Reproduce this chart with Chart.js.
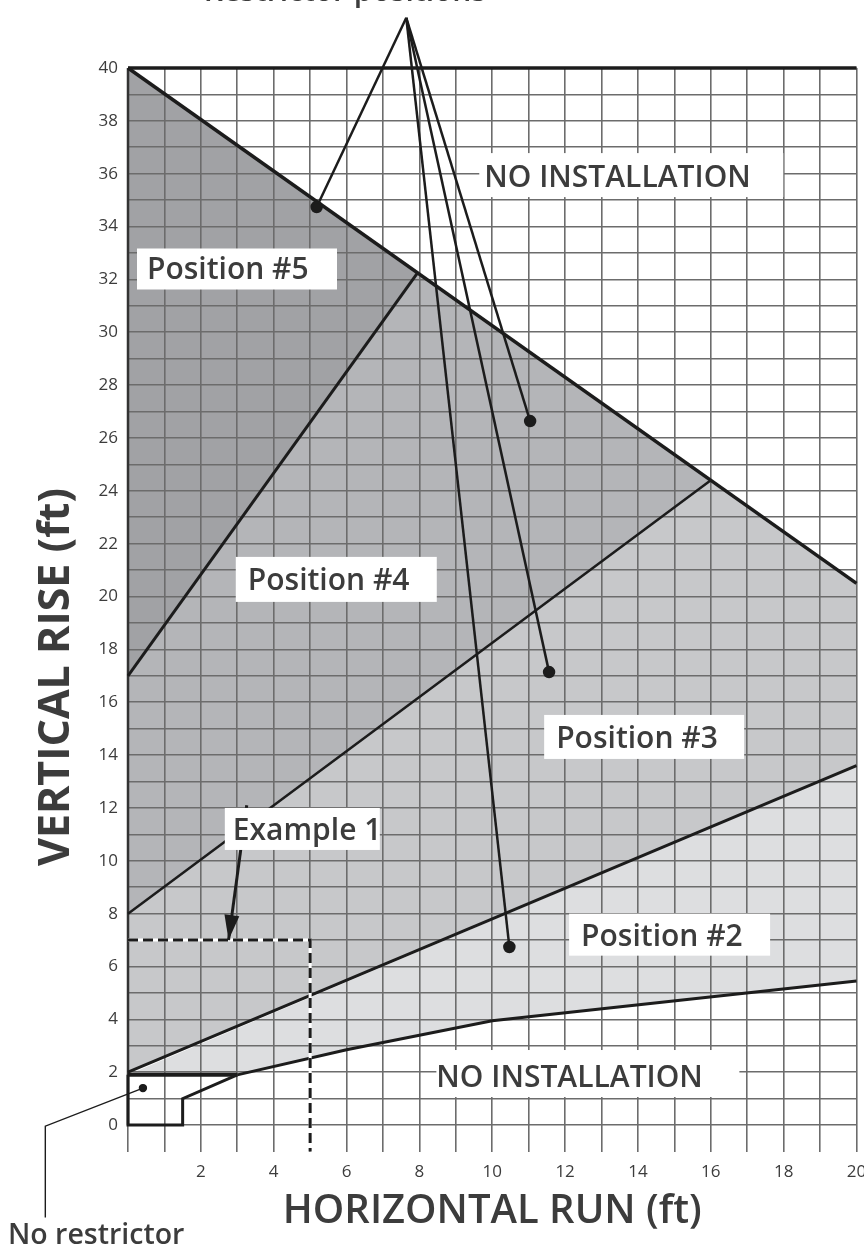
<!DOCTYPE html>
<html>
<head>
<meta charset="utf-8">
<script src="https://cdn.jsdelivr.net/npm/chart.js@4/dist/chart.umd.min.js"></script>
<style>
  html, body { margin: 0; padding: 0; background: #fff; }
  #wrap { width: 864px; height: 1249px; }
</style>
</head>
<body>
<div id="wrap"><canvas id="myChart" width="864" height="1249"></canvas></div>
<script>
// tick labels (ft)
var xTickLabels = [2, 4, 6, 8, 10, 12, 14, 16, 18, 20];
var yTickLabels = [0, 2, 4, 6, 8, 10, 12, 14, 16, 18, 20, 22, 24, 26, 28, 30, 32, 34, 36, 38, 40];

// zone boundaries as [run, rise] pairs
var topBoundary   = [[0, 40], [20, 20.5]];
var line45        = [[0, 17], [7.95, 32.25]];
var line34        = [[0, 8], [16, 24.4]];
var line23        = [[0, 2], [20, 13.6]];
var restrictorTop = [[0, 1.9], [3, 1.9]];
var restrictorBox = [[0, 1.9], [0, 0], [1.5, 0], [1.5, 1], [3, 1.9]];
var lowerBoundary = [[3, 1.9], [6, 2.85], [10, 3.95], [20, 5.45]];

// shaded zones (first point leftmost, last point rightmost)
var zone5 = [[0, 17], [0, 40], [7.95, 32.25]];
var zone4 = [[0, 8], [0, 17], [7.95, 32.25], [16, 24.4]];
var zone3 = [[0, 2], [0, 8], [16, 24.4], [20, 20.5], [20, 13.6]];
var zone2 = [[0, 1.9], [3, 1.9], [6, 2.85], [10, 3.95], [20, 5.45], [20, 13.6]];

// example 1 and the pointers
var example1 = [[0, 7], [5, 7], [5, -1]];
var exampleArrow = [[3.26, 12.1], [2.76, 7.0]];
var pointerApex = [7.64, 41.9];
var pointerDots = [[5.18, 34.74], [11.04, 26.64], [11.56, 17.14], [10.47, 6.74]];
var noRestrictorLeader = [[0.41, 1.4], [-2.27, -0.04], [-2.27, -3.5]];

var ink = '#1c1c1c';
var textColor = '#3c3c3c';
var gridColor = '#6c6c6c';

// label boxes: left/top in chart units, size in px
var labels = [
  {text: 'NO INSTALLATION', x: 9.644, y: 36.78, w: 304, h: 44, dx: 5, base: 34},
  {text: 'Position #5', x: 0.247, y: 33.17, w: 200, h: 41, dx: 10, base: 31},
  {text: 'Position #4', x: 2.959, y: 21.5, w: 201, h: 45, dx: 12, base: 33},
  {text: 'Position #3', x: 11.425, y: 15.52, w: 200, h: 44, dx: 12, base: 33},
  {text: 'Example 1', x: 2.658, y: 12.0, w: 155, h: 42, dx: 8, base: 32},
  {text: 'Position #2', x: 12.11, y: 8.0, w: 201, h: 42, dx: 12, base: 32},
  {text: 'NO INSTALLATION', x: 8.466, y: 2.84, w: 303, h: 47, dx: 0, base: 37}
];

function pts(a) {
  return a.map(function (p) { return {x: p[0], y: p[1]}; });
}
function zone(a, color) {
  return {data: pts(a), showLine: true, fill: 'shape', backgroundColor: color,
          borderColor: 'rgba(0,0,0,0)', borderWidth: 0, pointRadius: 0};
}
function edge(a, width, extra) {
  var ds = {data: pts(a), showLine: true, fill: false, borderColor: ink, borderWidth: width,
            pointRadius: 0, pointBackgroundColor: ink, pointBorderColor: ink, onTop: true, clip: false};
  return Object.assign(ds, extra || {});
}

var datasets = [
  zone(zone5, '#a1a2a5'),
  zone(zone4, '#b4b5b8'),
  zone(zone3, '#c7c8ca'),
  zone(zone2, '#dddee0'),
  edge([[0, 0], [0, 40]], 2.5, {borderColor: '#333'}),
  edge([[0, 40], [20, 40]], 3.5),
  edge(topBoundary, 3.5),
  edge(line45, 3),
  edge(line34, 2.5),
  edge(line23, 3),
  edge(lowerBoundary, 3),
  edge(restrictorBox, 3),
  edge(restrictorTop, 4),
  edge(example1, 3, {borderColor: '#fff'}),
  edge(example1, 3, {borderDash: [10, 5]}),
  edge(exampleArrow, 3),
  edge(noRestrictorLeader, 1.4, {pointRadius: [3.5, 0, 0]})
];
pointerDots.forEach(function (d) {
  datasets.push(edge([pointerApex, d], 2.5, {pointRadius: [0, 5]}));
});

// lines go over the grid, labels over everything
var overlay = {
  id: 'overlay',
  beforeDatasetDraw: function (chart, args) {
    if (chart.data.datasets[args.index].onTop) return false;
  },
  afterDraw: function (chart) {
    var ctx = chart.ctx;
    var xs = chart.scales.x, ys = chart.scales.y;
    chart.data.datasets.forEach(function (ds, i) {
      if (!ds.onTop) return;
      ctx.save();
      chart.getDatasetMeta(i).controller.draw();
      ctx.restore();
    });

    // arrow head of example 1
    var a = exampleArrow[0], b = exampleArrow[1];
    var x1 = xs.getPixelForValue(a[0]), y1 = ys.getPixelForValue(a[1]);
    var x2 = xs.getPixelForValue(b[0]), y2 = ys.getPixelForValue(b[1]);
    ctx.save();
    ctx.translate(x2, y2);
    ctx.rotate(Math.atan2(y2 - y1, x2 - x1));
    ctx.beginPath();
    ctx.moveTo(0, 0);
    ctx.lineTo(-25, -7.5);
    ctx.lineTo(-25, 7.5);
    ctx.closePath();
    ctx.fillStyle = ink;
    ctx.fill();
    ctx.restore();

    ctx.save();
    ctx.font = '600 30px "Open Sans"';
    ctx.textBaseline = 'alphabetic';
    ctx.textAlign = 'left';
    labels.forEach(function (l) {
      var px = xs.getPixelForValue(l.x), py = ys.getPixelForValue(l.y);
      ctx.fillStyle = '#fff';
      ctx.fillRect(px, py, l.w, l.h);
      ctx.fillStyle = textColor;
      ctx.fillText(l.text, px + l.dx, py + l.base);
    });

    ctx.fillStyle = textColor;
    ctx.textAlign = 'right';
    ctx.fillText('Restrictor positions', 486, 0.5);
    ctx.textAlign = 'left';
    ctx.font = '600 28.5px "Open Sans"';
    ctx.fillText('No restrictor', 8, 1244);

    // vertical axis title
    ctx.translate(57, 677);
    ctx.rotate(-Math.PI / 2);
    ctx.textAlign = 'center';
    ctx.textBaseline = 'middle';
    ctx.font = '700 43px "Open Sans"';
    ctx.fillText('VERTICAL RISE (ft)', 0, 0);
    ctx.restore();
  }
};

Chart.defaults.font.family = '"Open Sans", sans-serif';

new Chart('myChart', {
  type: 'scatter',
  data: {datasets: datasets},
  options: {
    responsive: false,
    devicePixelRatio: 1,
    animation: false,
    events: [],
    layout: {padding: {top: 68, right: 6, left: 0, bottom: 0}},
    plugins: {legend: {display: false}, tooltip: {enabled: false}},
    scales: {
      x: {
        type: 'linear', min: 0, max: 20,
        afterFit: function (s) { s.height = 97.5; s.paddingLeft = 0; s.paddingRight = 0; },
        border: {display: false},
        grid: {z: 1, color: gridColor, lineWidth: 1.6, drawTicks: false},
        ticks: {
          stepSize: 1, autoSkip: false, maxRotation: 0, padding: 10,
          color: textColor, font: {size: 17},
          callback: function (v) { return xTickLabels.indexOf(v) >= 0 ? String(v) : ''; }
        },
        title: {display: true, text: 'HORIZONTAL RUN (ft)', color: textColor,
                font: {size: 40, weight: '600'}, padding: {top: 0, bottom: 13}}
      },
      y: {
        type: 'linear', min: -1, max: 40,
        afterFit: function (s) { s.width = 128; s.paddingTop = 0; s.paddingBottom = 0; },
        border: {display: false},
        grid: {
          z: 1, lineWidth: 1.6, drawTicks: false,
          color: function (c) { return c.tick && c.tick.value === -1 ? 'rgba(0,0,0,0)' : gridColor; }
        },
        ticks: {
          stepSize: 1, autoSkip: false, padding: 10,
          color: textColor, font: {size: 17},
          callback: function (v) { return yTickLabels.indexOf(v) >= 0 ? String(v) : ''; }
        },
        title: {display: false}
      }
    }
  },
  plugins: [overlay]
});
</script>
</body>
</html>
